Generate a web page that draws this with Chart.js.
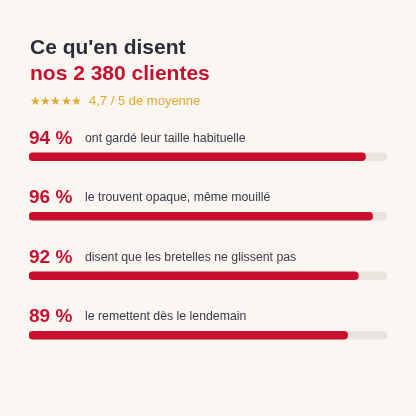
<!DOCTYPE html>
<html lang="fr">
<head>
<meta charset="utf-8">
<title>Ce qu'en disent nos 2 380 clientes</title>
<script src="https://cdn.jsdelivr.net/npm/chart.js@4"></script>
<style>
  html, body { margin: 0; padding: 0; background: #faf7f2; }
  #wrap { position: relative; width: 416px; height: 416px; overflow: hidden; font-family: "Liberation Sans", Arial, sans-serif; }
  #chart { position: absolute; left: 0; top: 0; }
  .line { position: absolute; left: 30px; font-size: 21px; font-weight: 700; line-height: 26px; white-space: nowrap; }
  #title1 { top: 34px; color: #2b2b3a; }
  #title2 { top: 60px; color: #c8102e; }
  #rating { position: absolute; left: 30px; top: 93px; font-size: 13px; line-height: 16px; color: #e0a82e; white-space: nowrap; }
  #stars { display: inline-block; width: 59px; font-size: 11.5px; letter-spacing: -0.8px; }
</style>
</head>
<body>
<div id="wrap">
  <canvas id="chart" width="416" height="416"></canvas>
  <div class="line" id="title1">Ce qu'en disent</div>
  <div class="line" id="title2">nos 2 380 clientes</div>
  <div id="rating"><span id="stars">★★★★★</span>4,7 / 5 de moyenne</div>
</div>
<script>
const categories = [
  'ont gardé leur taille habituelle',
  'le trouvent opaque, même mouillé',
  'disent que les bretelles ne glissent pas',
  'le remettent dès le lendemain',
];
const percents = [94, 96, 92, 89];
const track = [100, 100, 100, 100];

// percent and caption above each bar
const rowLabels = {
  id: 'rowLabels',
  afterDatasetsDraw(chart) {
    const { ctx, scales: { y } } = chart;
    ctx.save();
    ctx.textBaseline = 'alphabetic';
    categories.forEach((cat, i) => {
      const py = y.getPixelForValue(i);
      ctx.fillStyle = '#c8102e';
      ctx.font = '700 19px "Liberation Sans", Arial, sans-serif';
      ctx.fillText(percents[i] + ' %', 29, py - 13);
      ctx.fillStyle = '#3a3a48';
      ctx.font = '12.3px "Liberation Sans", Arial, sans-serif';
      ctx.fillText(cat, 85, py - 15);
    });
    ctx.restore();
  },
};

new Chart(document.getElementById('chart'), {
  type: 'bar',
  data: {
    labels: categories,
    datasets: [
      { data: percents, backgroundColor: '#c8102e', order: 1 },
      { data: track, backgroundColor: '#e8e4de', order: 2 },
    ],
  },
  options: {
    indexAxis: 'y',
    responsive: false,
    animation: false,
    layout: { padding: { left: 29, right: 29, top: 127, bottom: 51 } },
    datasets: { bar: { grouped: false, barThickness: 8, borderRadius: 4, borderSkipped: false } },
    plugins: { legend: { display: false }, tooltip: { enabled: false } },
    scales: {
      x: { display: false, min: 0, max: 100 },
      y: { display: false },
    },
  },
  plugins: [rowLabels],
});
</script>
</body>
</html>
